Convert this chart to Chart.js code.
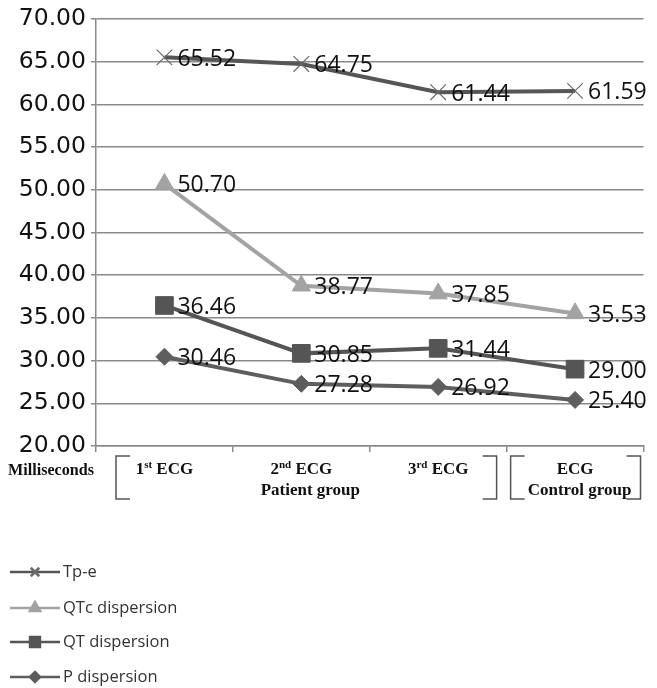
<!DOCTYPE html>
<html>
<head>
<meta charset="utf-8">
<script src="https://cdn.jsdelivr.net/npm/chart.js@4"></script>
<style>
  html, body { margin: 0; padding: 0; background: #fff; }
  canvas { display: block; }
</style>
</head>
<body>
<canvas id="c" width="657" height="688"></canvas>
<script>
// ECG measurements (milliseconds) per recording
const categories = ['1st ECG', '2nd ECG', '3rd ECG', 'ECG'];
const ordinalBase = ['1', '2', '3', ''];
const ordinalSuffix = ['st', 'nd', 'rd', ''];
const groups = [
  { name: 'Patient group', from: 0, to: 2 },
  { name: 'Control group', from: 3, to: 3 }
];
const seriesNames = ['Tp-e', 'QTc dispersion', 'QT dispersion', 'P dispersion'];
const tpe = [65.52, 64.75, 61.44, 61.59];
const qtcDispersion = [50.70, 38.77, 37.85, 35.53];
const qtDispersion = [36.46, 30.85, 31.44, 29.00];
const pDispersion = [30.46, 27.28, 26.92, 25.40];
const yMin = 20, yMax = 70, yStep = 5;
const axisTitle = 'Milliseconds';

const styles = [
  { line: '#565656', point: 'crossRot', radius: 11, fill: '#6a6a6a', pointBorder: '#6a6a6a', pw: 1.2, legendR: 6 },
  { line: '#a3a3a3', point: 'triangle', radius: 10.5, fill: '#a3a3a3', pointBorder: '#a3a3a3', pw: 1, legendR: 6 },
  { line: '#555555', point: 'rect', radius: 12.5, fill: '#555555', pointBorder: '#555555', pw: 1, legendR: 7 },
  { line: '#5e5e5e', point: 'rectRot', radius: 8.5, fill: '#5e5e5e', pointBorder: '#5e5e5e', pw: 1, legendR: 5 }
];
const seriesData = [tpe, qtcDispersion, qtDispersion, pDispersion];

const datasets = seriesData.map((d, i) => ({
  label: seriesNames[i],
  data: d,
  borderColor: styles[i].line,
  backgroundColor: styles[i].fill,
  borderWidth: 4,
  pointStyle: styles[i].point,
  pointRadius: styles[i].radius,
  pointHoverRadius: styles[i].radius,
  pointBackgroundColor: styles[i].fill,
  pointBorderColor: styles[i].pointBorder,
  pointBorderWidth: styles[i].pw,
  tension: 0
}));

// Value labels to the right of each point
const valueLabels = {
  id: 'valueLabels',
  afterDatasetsDraw(chart) {
    const ctx = chart.ctx;
    ctx.save();
    ctx.font = '23px "Open Sans"';
    ctx.fillStyle = '#111';
    ctx.textAlign = 'left';
    ctx.textBaseline = 'middle';
    chart.data.datasets.forEach((ds, di) => {
      chart.getDatasetMeta(di).data.forEach((pt, i) => {
        ctx.fillText(ds.data[i].toFixed(2), pt.x + 13, pt.y + 2);
      });
    });
    ctx.restore();
  }
};

// Category labels with ordinal superscripts, group brackets and axis title
const categoryLabels = {
  id: 'categoryLabels',
  afterDraw(chart) {
    const ctx = chart.ctx;
    const x = chart.scales.x;
    const bottom = chart.chartArea.bottom;
    const row1 = bottom + 24, row2 = bottom + 45;
    const big = 'bold 17px "Liberation Serif"';
    const small = 'bold 11px "Liberation Serif"';
    ctx.save();
    ctx.fillStyle = '#111';
    ctx.textBaseline = 'middle';

    // condensed axis title
    ctx.font = 'bold 16px "Liberation Serif"';
    ctx.textAlign = 'left';
    const tw = ctx.measureText(axisTitle).width;
    ctx.save();
    ctx.translate(8, row1 + 1);
    ctx.scale(86 / tw, 1);
    ctx.fillText(axisTitle, 0, 0);
    ctx.restore();

    categories.forEach((c, i) => {
      const cx = x.getPixelForValue(i);
      const base = ordinalBase[i], suf = ordinalSuffix[i];
      const rest = base ? ' ECG' : c;
      ctx.font = big; const wb = ctx.measureText(base).width; const wr = ctx.measureText(rest).width;
      ctx.font = small; const ws = ctx.measureText(suf).width;
      let sx = cx - (wb + ws + wr) / 2;
      ctx.textAlign = 'left';
      ctx.font = big; ctx.fillText(base, sx, row1); sx += wb;
      ctx.font = small; ctx.fillText(suf, sx, row1 - 5); sx += ws;
      ctx.font = big; ctx.fillText(rest, sx, row1);
    });

    ctx.strokeStyle = '#555';
    ctx.lineWidth = 1.5;
    const top = bottom + 10, bot = bottom + 53, arm = 14;
    groups.forEach(g => {
      const half = (x.getPixelForValue(1) - x.getPixelForValue(0)) / 2;
      const l = x.getPixelForValue(g.from) - half + (g.from === 0 ? 20 : 4);
      const r = x.getPixelForValue(g.to) + half - (g.to === categories.length - 1 ? 3 : 10);
      ctx.beginPath();
      ctx.moveTo(l + arm, top); ctx.lineTo(l, top); ctx.lineTo(l, bot); ctx.lineTo(l + arm, bot);
      ctx.moveTo(r - arm, top); ctx.lineTo(r, top); ctx.lineTo(r, bot); ctx.lineTo(r - arm, bot);
      ctx.stroke();
      ctx.font = 'bold 17px "Liberation Serif"';
      ctx.textAlign = 'center';
      ctx.fillText(g.name, (l + r) / 2 + 4, row2);
    });
    ctx.restore();
  }
};

// Vertical legend at the lower left
const sideLegend = {
  id: 'sideLegend',
  afterDraw(chart) {
    const ctx = chart.ctx;
    const ys = [572, 608, 642, 677];
    ctx.save();
    chart.data.datasets.forEach((ds, i) => {
      const y = ys[i];
      ctx.strokeStyle = ds.borderColor;
      ctx.lineWidth = 2.5;
      ctx.beginPath(); ctx.moveTo(10, y); ctx.lineTo(60, y); ctx.stroke();
      ctx.fillStyle = ds.backgroundColor;
      ctx.strokeStyle = ds.pointBorderColor;
      Chart.helpers.drawPoint(ctx, {
        pointStyle: ds.pointStyle,
        radius: styles[i].legendR,
        rotation: 0,
        borderWidth: 1
      }, 35, y);
      ctx.fillStyle = '#333';
      ctx.font = '16.5px "Open Sans"';
      ctx.textAlign = 'left';
      ctx.textBaseline = 'middle';
      ctx.fillText(ds.label, 63, y);
    });
    ctx.restore();
  }
};

new Chart(document.getElementById('c'), {
  type: 'line',
  data: { labels: categories, datasets },
  options: {
    responsive: false,
    animation: false,
    layout: { padding: { left: 0, top: 17, right: 13, bottom: 236 } },
    plugins: { legend: { display: false }, tooltip: { enabled: false } },
    scales: {
      x: {
        offset: true,
        grid: { display: true, drawOnChartArea: false, drawTicks: true, tickLength: 6, color: '#8a8a8a', lineWidth: 1.5, offset: true },
        border: { color: '#8a8a8a', width: 1.5 },
        ticks: { display: false },
        afterFit(s) { s.height = 6; }
      },
      y: {
        min: yMin, max: yMax,
        grid: { color: '#8a8a8a', lineWidth: 1.5, tickLength: 5 },
        border: { color: '#8a8a8a', width: 1.5 },
        ticks: {
          stepSize: yStep,
          color: '#111',
          padding: 5,
          font: { family: 'DejaVu Sans', size: 23.5 },
          callback: v => Number(v).toFixed(2)
        },
        afterFit(s) { s.width = 96; }
      }
    }
  },
  plugins: [valueLabels, categoryLabels, sideLegend]
});
</script>
</body>
</html>
